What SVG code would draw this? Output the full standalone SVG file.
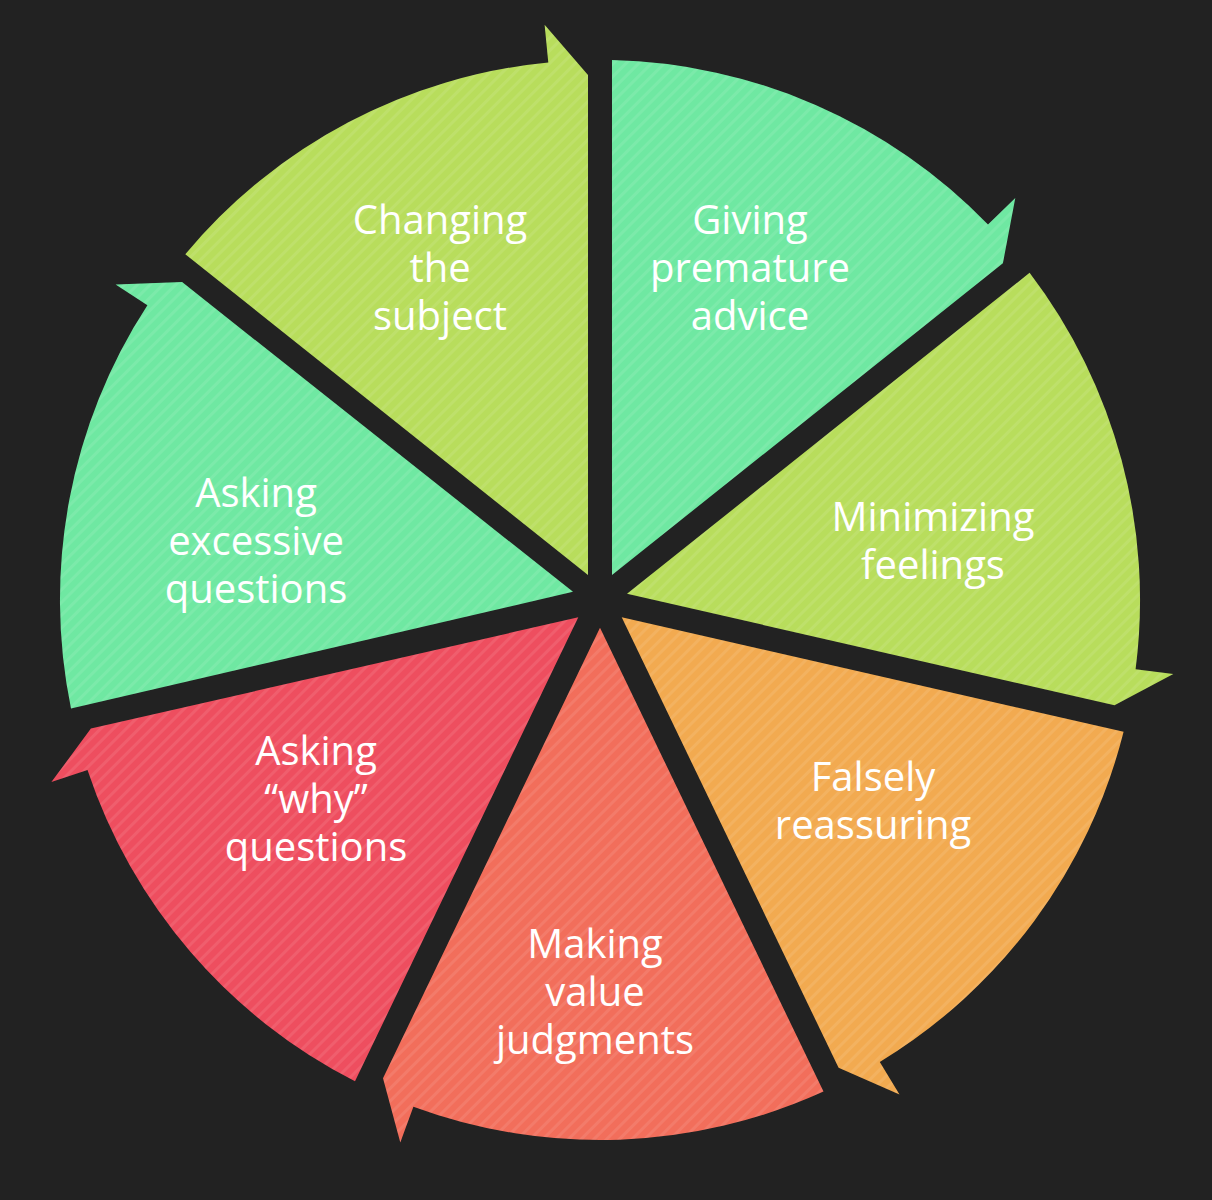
<svg xmlns="http://www.w3.org/2000/svg" width="1212" height="1200" viewBox="0 0 1212 1200">
<defs>
<pattern id="st" patternUnits="userSpaceOnUse" width="9" height="9" patternTransform="rotate(45)">
<rect x="0" y="0" width="3" height="9" fill="#ffffff" fill-opacity="0.09"/>
</pattern>
</defs>
<style>
.lbl{font-family:"Open Sans","DejaVu Sans",sans-serif;font-size:40px;fill:#ffffff;text-anchor:middle}
.mint{fill:#6fe8a2}.lime{fill:#b8dd5c}.orange{fill:#f2aa50}.salmon{fill:#f26e5b}.red{fill:#ee4e5f}
</style>
<rect width="1212" height="1200" fill="#222222"/>
<g id="connectors"></g>
<g id="giving"><path class="mint" d="M612,575 L612,60.1 A540,540 0 0 1 988,224.4 L1015.3,198 L1002.9,263.3 Z"/><path fill="url(#st)" d="M612,575 L612,60.1 A540,540 0 0 1 988,224.4 L1015.3,198 L1002.9,263.3 Z"/>
<text class="lbl"><tspan x="750" y="234">Giving</tspan><tspan x="750" y="282">premature</tspan><tspan x="750" y="330">advice</tspan></text></g>
<g id="minimizing"><path class="lime" d="M627,593.8 L1029.6,272.8 A540,540 0 0 1 1135.6,669.2 L1173.3,674 L1114.5,705.2 Z"/><path fill="url(#st)" d="M627,593.8 L1029.6,272.8 A540,540 0 0 1 1135.6,669.2 L1173.3,674 L1114.5,705.2 Z"/>
<text class="lbl"><tspan x="933" y="531">Minimizing</tspan><tspan x="933" y="579">feelings</tspan></text></g>
<g id="falsely"><path class="orange" d="M621.7,617.3 L1123.6,731.8 A540,540 0 0 1 879.8,1061.9 L899.5,1094.4 L838.6,1067.8 Z"/><path fill="url(#st)" d="M621.7,617.3 L1123.6,731.8 A540,540 0 0 1 879.8,1061.9 L899.5,1094.4 L838.6,1067.8 Z"/>
<text class="lbl"><tspan x="873" y="791">Falsely</tspan><tspan x="873" y="839">reassuring</tspan></text></g>
<g id="making"><path class="salmon" d="M600,627.7 L823.5,1091.6 A540,540 0 0 1 413.4,1106.7 L400.3,1142.4 L383,1078.2 Z"/><path fill="url(#st)" d="M600,627.7 L823.5,1091.6 A540,540 0 0 1 413.4,1106.7 L400.3,1142.4 L383,1078.2 Z"/>
<text class="lbl"><tspan x="595" y="958">Making</tspan><tspan x="595" y="1006">value</tspan><tspan x="595" y="1054">judgments</tspan></text></g>
<g id="why"><path class="red" d="M578.3,617.3 L355,1081.2 A540,540 0 0 1 87.5,770.1 L51.4,782.1 L90.9,728.6 Z"/><path fill="url(#st)" d="M578.3,617.3 L355,1081.2 A540,540 0 0 1 87.5,770.1 L51.4,782.1 L90.9,728.6 Z"/>
<text class="lbl"><tspan x="316" y="765">Asking</tspan><tspan x="316" y="813">“why”</tspan><tspan x="316" y="861">questions</tspan></text></g>
<g id="excessive"><path class="mint" d="M573,591.8 L71,708.5 A540,540 0 0 1 147.4,305.3 L115.6,284.6 L182.1,282.1 Z"/><path fill="url(#st)" d="M573,591.8 L71,708.5 A540,540 0 0 1 147.4,305.3 L115.6,284.6 L182.1,282.1 Z"/>
<text class="lbl"><tspan x="256" y="507">Asking</tspan><tspan x="256" y="555">excessive</tspan><tspan x="256" y="603">questions</tspan></text></g>
<g id="changing"><path class="lime" d="M588,575 L185.3,254.2 A540,540 0 0 1 548.3,62.5 L544.6,24.7 L588,75 Z"/><path fill="url(#st)" d="M588,575 L185.3,254.2 A540,540 0 0 1 548.3,62.5 L544.6,24.7 L588,75 Z"/>
<text class="lbl"><tspan x="440" y="234">Changing</tspan><tspan x="440" y="282">the</tspan><tspan x="440" y="330">subject</tspan></text></g>
</svg>
